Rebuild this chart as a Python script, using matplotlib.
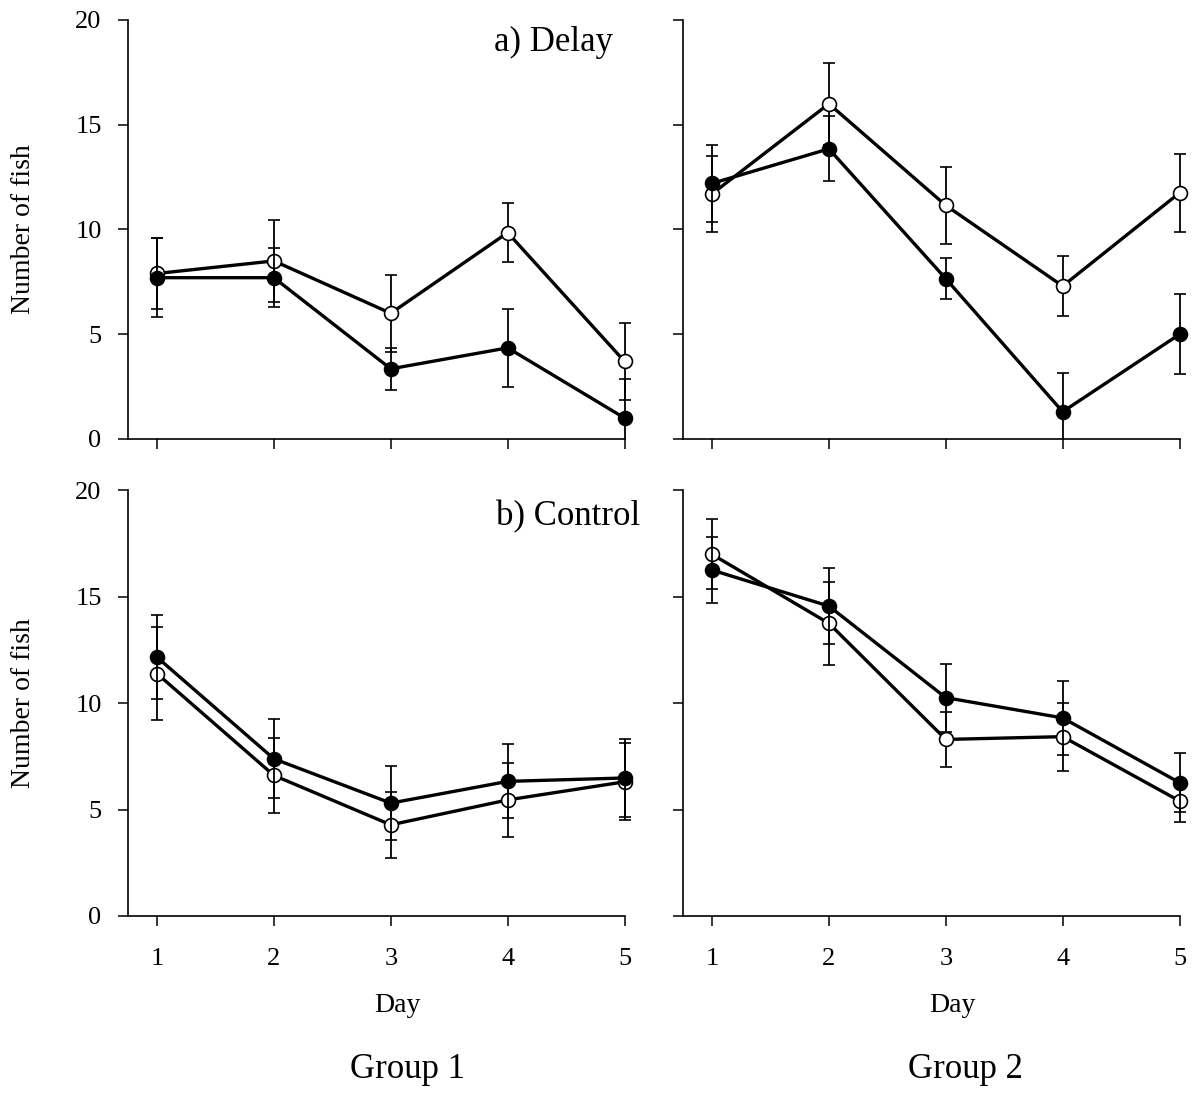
import matplotlib
matplotlib.use("Agg")
import matplotlib.pyplot as plt

plt.rcParams['font.family'] = ['Liberation Serif', 'DejaVu Serif']

days = [1, 2, 3, 4, 5]
day_labels = ["1", "2", "3", "4", "5"]
y_ticks = [0, 5, 10, 15, 20]

# a) Delay
delay_g1_open = [7.9, 8.5, 6.0, 9.85, 3.7]
delay_g1_open_err = [1.7, 1.95, 1.83, 1.4, 1.83]
delay_g1_filled = [7.7, 7.7, 3.35, 4.35, 1.0]
delay_g1_filled_err = [1.9, 1.42, 1.0, 1.86, 1.85]

delay_g2_open = [11.7, 16.0, 11.15, 7.3, 11.75]
delay_g2_open_err = [1.8, 1.96, 1.85, 1.45, 1.85]
delay_g2_filled = [12.2, 13.85, 7.65, 1.3, 5.0]
delay_g2_filled_err = [1.85, 1.55, 0.97, 1.85, 1.9]

# b) Control
control_g1_open = [11.38, 6.6, 4.28, 5.45, 6.3]
control_g1_open_err = [2.2, 1.75, 1.55, 1.75, 1.8]
control_g1_filled = [12.15, 7.38, 5.3, 6.32, 6.48]
control_g1_filled_err = [1.96, 1.86, 1.74, 1.74, 1.85]

control_g2_open = [16.98, 13.74, 8.29, 8.42, 5.4]
control_g2_open_err = [1.65, 1.95, 1.3, 1.6, 1.0]
control_g2_filled = [16.24, 14.55, 10.25, 9.3, 6.26]
control_g2_filled_err = [1.55, 1.8, 1.6, 1.75, 1.4]

W, H = 1192, 1095
fig = plt.figure(figsize=(W / 100, H / 100), dpi=100)

def fx(px):
    return px / W

def fy(py):
    return 1 - py / H

XMIN, XMAX = 0.752, 5.1
px_per_day = 116.9
ax_w = (XMAX - XMIN) * px_per_day / W
positions = {
    (0, 0): [fx(128), fy(439), ax_w, (439 - 20) / H],
    (0, 1): [fx(683), fy(439), ax_w, (439 - 20) / H],
    (1, 0): [fx(128), fy(916), ax_w, (916 - 490) / H],
    (1, 1): [fx(683), fy(916), ax_w, (916 - 490) / H],
}

panels = {
    (0, 0): (delay_g1_open, delay_g1_open_err, delay_g1_filled, delay_g1_filled_err),
    (0, 1): (delay_g2_open, delay_g2_open_err, delay_g2_filled, delay_g2_filled_err),
    (1, 0): (control_g1_open, control_g1_open_err, control_g1_filled, control_g1_filled_err),
    (1, 1): (control_g2_open, control_g2_open_err, control_g2_filled, control_g2_filled_err),
}

axes = {}
for key, pos in positions.items():
    r, c = key
    ax = fig.add_axes(pos)
    ax.patch.set_alpha(0)
    axes[key] = ax
    op, ope, fi, fie = panels[key]
    common = dict(color='black', lw=2.4, ecolor='black', elinewidth=1.3,
                  capsize=4, capthick=1.3, markersize=10, markeredgewidth=1.2,
                  clip_on=True)
    ax.errorbar(days, op, yerr=ope, fmt='-o', markerfacecolor='white',
                markeredgecolor='black', zorder=3, **common)
    ax.errorbar(days, fi, yerr=fie, fmt='-o', markerfacecolor='black',
                markeredgecolor='black', zorder=4, **common)
    ax.set_xlim(XMIN, XMAX)
    ax.set_ylim(0, 20)
    ax.spines['top'].set_visible(False)
    ax.spines['right'].set_visible(False)
    ax.spines['left'].set_linewidth(1.2)
    ax.spines['bottom'].set_linewidth(1.2)
    ax.spines['bottom'].set_bounds(XMIN, 5.0)
    ax.set_xticks(days)
    ax.set_yticks(y_ticks)
    ax.tick_params(axis='both', direction='out', length=7, width=1.1,
                   labelsize=19, colors='black')
    ax.tick_params(axis='x', pad=16)
    ax.tick_params(axis='y', pad=12)
    if r == 1:
        ax.set_xticklabels(day_labels)
        ax.text(3.06, -0.209, "Day", transform=ax.get_xaxis_transform(),
                ha='center', va='center', fontsize=20)
    else:
        ax.set_xticklabels([])
    if c == 0:
        ax.set_yticklabels([str(v) for v in y_ticks])
        ax.text(-0.21 * 499 / (ax_w * W), 0.5, "Number of fish",
                transform=ax.transAxes, rotation=90, ha='center',
                va='center', fontsize=20)
    else:
        ax.set_yticklabels([])

axes[(0, 0)].text(4.9, 0.947, "a) Delay",
                  transform=axes[(0, 0)].get_xaxis_transform(),
                  ha='right', va='center', fontsize=25)
axes[(1, 0)].text(5.13, 0.937, "b) Control",
                  transform=axes[(1, 0)].get_xaxis_transform(),
                  ha='right', va='center', fontsize=25, clip_on=False)

fig.text(fx(407), fy(1070), "Group 1", ha='center', va='center', fontsize=25)
fig.text(fx(965), fy(1070), "Group 2", ha='center', va='center', fontsize=25)

fig.savefig("out.png", dpi=100)
